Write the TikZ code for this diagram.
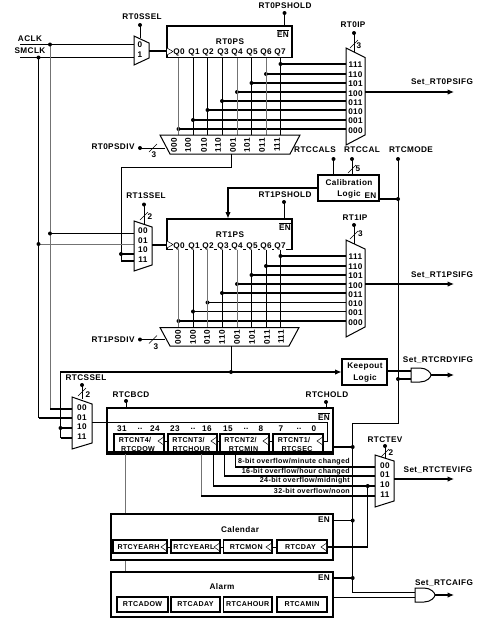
\documentclass[tikz,border=0pt]{standalone}
\usepackage{fontspec}
\setmainfont[LetterSpace=5]{Liberation Sans}
\usetikzlibrary{arrows.meta}
\tikzset{
 x=1pt,y=-1pt,
 every node/.style={font=\fontsize{8.2}{9}\selectfont\bfseries,inner sep=0pt},
 wire/.style={line width=0.9pt},
 hwire/.style={line width=1.2pt},
 gwire/.style={line width=0.9pt,draw=black!55},
 box/.style={line width=1.6pt,draw=black},
 fatbox/.style={line width=2.2pt,draw=black},
 inbox/.style={line width=1.3pt,draw=black},
 muxs/.style={line width=1pt,draw=black,fill=white},
 arr/.style={line width=1.1pt,-{Latex[length=6.5pt,width=5.5pt]}},
 mini/.style={font=\fontsize{7.1}{8}\selectfont\bfseries},
 clk/.style={line width=.5pt,draw=black,fill=white},
}
\newcommand{\jn}[1]{\fill (#1) circle (2pt);}
\newcommand{\slashm}[1]{\draw[line width=.6pt] ([shift={(-4,4)}]#1) -- ([shift={(4,-4)}]#1);}
\begin{document}
\begin{tikzpicture}
\useasboundingbox (0,0) rectangle (497,619);
% ---- clocks
\coordinate (a0) at (20,44.5); \coordinate (s0) at (20,57.5);
\draw[hwire] (a0) -- (134,44.5);
\draw[hwire] (s0) -- (134,57.5);
\draw[gwire] (50,44.5) -- (50,409);
\draw[wire] (38.5,57.5) -- (38.5,418);
\jn{50,44.5} \jn{38.5,57.5}
\node at (30,39) {ACLK}; \node at (30,51) {SMCLK};
% RT0 sel mux
\draw[wire] (140,25) -- (140,38); \jn{140,25}
\node at (142,17) {RT0SSEL};
\draw[muxs] (134,36) -- (149,43) -- (149,58) -- (134,65) -- cycle;
\node at (140,45) {0}; \node at (140,55) {1};
\draw[hwire] (149,51) -- (167,51);
% RT0PS
\node (rt0) at (230,42) {RT0PS};
\draw[box] (167,26) rectangle (292,57.5);
\draw[clk] (167,48) -- (173,51.5) -- (167,55);
\foreach \t/\x in {Q0/179,Q1/194,Q2/208,Q3/223,Q4/237,Q5/252,Q6/266,Q7/280} \node[fill=white,inner sep=.3pt] at (\x,52) {\t};
\node at (283,33.5) {$\overline{\hbox{EN}}$};
\node at (285,6) {RT0PSHOLD}; \draw[wire] (284.5,13) -- (284.5,26); \jn{284.5,13}
% Q lines
\foreach \x/\y in {280.5/64,266/74,251.5/83,237/92,222/101,207.5/110,193/120,178.5/129}{
  \draw[hwire] (\x,\y) -- (346,\y); \jn{\x,\y}
}
\foreach \x in {193,222,251.5,280.5,207.5} \draw[wire] (\x,57.5) -- (\x,135);
\foreach \x in {178.5,237,266} \draw[gwire] (\x,57.5) -- (\x,135);
% RT0IP mux
\draw[muxs] (346,48) -- (365,57.5) -- (365,135) -- (346,145) -- cycle;
\node at (353,25) {RT0IP};
\draw[wire] (354,33) -- (354,52); \jn{354,33}
\slashm{354,44} \node at (359,46) {3};
\foreach \t/\y in {111/65,110/75,101/84,100/94,011/103,010/112,001/121,000/131} \node at (355.5,\y) {\t};
\draw[arr] (365,92) -- (454,92);
\node at (442,82) {Set\_RT0PSIFG};
% RT0 divider
\draw[muxs] (160,135) -- (300,135) -- (290,154) -- (170,154) -- cycle;
\foreach \t/\x in {000/174,100/188,010/204,110/218,001/233,101/247,011/262,111/277} \node[rotate=90] at (\x,145) {\t};
\node at (113,147) {RT0PSDIV};
\draw[wire] (140,148) -- (165,148); \jn{140,148} \slashm{153,148} \node at (154,154.5) {3};
% RT0 div to RT1 mux
\draw[wire] (231,154) -- (231,167) -- (121,167) -- (121,261);
\draw[hwire] (121,254) -- (134,254); \jn{121,254}
\draw[hwire] (121,261) -- (134,261);
% labels middle
\node at (315,150) {RTCCALS}; \node at (362,150) {RTCCAL}; \node at (411,150) {RTCMODE};
% Calibration
\draw[wire] (333.5,159) -- (333.5,175); \jn{333.5,159}
\draw[wire] (352,159) -- (352,175); \jn{352,159} \slashm{352,169} \node at (358,169) {5};
\draw[fatbox] (318,175) rectangle (379,201);
\node at (349,183) {Calibration}; \node at (349,194.5) {Logic}; \node at (370.5,196) {EN};
\draw[arr] (318,188) -- (228,188) -- (228,218.5);
\draw[hwire] (379,199) -- (398,199);
\jn{398,199}
% RTCMODE line
\draw[wire] (398,159) -- (398,423) -- (352.7,423) -- (352.7,592) -- (415,592); \jn{398,159}
% RT1 sel mux
\node at (146,196) {RT1SSEL};
\draw[wire] (144,204.5) -- (144,224); \jn{144,204.5} \slashm{144,216} \node at (150,217) {2};
\draw[hwire] (50,233.5) -- (134,233.5); \jn{50,233.5}
\draw[line width=.7pt,black!55] (38.5,244) -- (134,244); \jn{38.5,244}
\draw[muxs] (134,221) -- (152,227) -- (152,265) -- (134,271) -- cycle;
\foreach \t/\y in {00/231,01/241,10/250,11/260} \node at (143,\y) {\t};
\draw[hwire] (152,245) -- (167,245);
% RT1PS
\node at (285,195) {RT1PSHOLD}; \draw[wire] (284,202) -- (284,219); \jn{284,202}
\draw[box] (167,219) rectangle (292,249.5);
\node at (230,235) {RT1PS};
\draw[clk] (167,241) -- (173,244.5) -- (167,248);
\foreach \t/\x in {Q0/179,Q1/194,Q2/208,Q3/223,Q4/237,Q5/252,Q6/266,Q7/280} \node[fill=white,inner sep=.3pt] at (\x,246) {\t};
\node at (285,226.5) {$\overline{\hbox{EN}}$};
\foreach \x/\y in {280.5/256,266/266,251.5/275,237/284,222/293,207.5/302.5,193/311.5,178.5/321}{
  \draw[hwire] (\x,\y) -- (346,\y); \jn{\x,\y}
}
\foreach \x in {193,222,251.5,280.5,266} \draw[wire] (\x,249.5) -- (\x,327.5);
\foreach \x in {178.5,237,207.5} \draw[gwire] (\x,249.5) -- (\x,327.5);
% RT1IP mux
\draw[muxs] (346,240) -- (365,249) -- (365,327) -- (346,337) -- cycle;
\node at (355,218) {RT1IP};
\draw[wire] (354,225) -- (354,244); \jn{354,225} \slashm{354,235} \node at (360.5,234) {3};
\foreach \t/\y in {111/257,110/267,101/276,100/286,011/295,010/304,001/313,000/323} \node at (355.5,\y) {\t};
\draw[arr] (365,284) -- (454,284);
\node at (442,275) {Set\_RT1PSIFG};
% RT1 divider
\draw[muxs] (160,327.5) -- (299,327.5) -- (289,346) -- (170,346) -- cycle;
\foreach \t/\x in {000/178,100/193,010/207,110/222,001/237,101/252,011/267,111/281} \node[rotate=90] at (\x,337) {\t};
\node at (113,340) {RT1PSDIV};
\draw[wire] (140,339.5) -- (165,339.5); \jn{140,339.5} \slashm{153,339.5} \node at (156,347) {3};
% Keepout
\draw[wire] (231,346) -- (231,372); \jn{231,372}
\draw[arr] (60.5,438) -- (60.5,372) -- (341.5,372);
\draw[fatbox] (342,359) rectangle (387,385);
\node at (365,367) {Keepout}; \node at (365,378) {Logic};
\draw[hwire] (387,371) -- (411,371);
\draw[hwire] (398,379) -- (411,379); \jn{398,379}
\draw[line width=1pt,fill=white] (411,368) -- (420,368) .. controls (427,368) and (431,373) .. (431,375) .. controls (431,377) and (427,382) .. (420,382) -- (411,382) -- cycle;
\draw[arr] (431,375) -- (454,375);
\node at (438,360) {Set\_RTCRDYIFG};
% RTC sel mux
\node at (86,378) {RTCSSEL};
\draw[wire] (82,385) -- (82,399); \jn{82,385} \slashm{82,392} \node at (88,395) {2};
\draw[hwire] (50,409) -- (72,409);
\draw[hwire] (38.5,418) -- (72,418);
\draw[hwire] (60.5,428) -- (72,428); \jn{60.5,428}
\draw[hwire] (60.5,438) -- (72,438);
\draw[muxs] (72,397) -- (92,404) -- (92,443) -- (72,449) -- cycle;
\foreach \t/\y in {00/408,01/418,10/427,11/437} \node at (82,\y) {\t};
% RTC main
\node at (131,395) {RTCBCD}; \draw[wire] (126,401) -- (126,408); \jn{126,401}
\node at (327,395) {RTCHOLD}; \draw[wire] (326,402) -- (326,408); \jn{326,402}
\node at (324,416.5) {$\overline{\hbox{EN}}$};
\draw[wire] (92,422.5) -- (327,422.5) -- (327,441) -- (323,441);
\foreach \t/\x in {31/122,24/155,23/175,16/207,15/228,8/261,7/281,0/314} \node at (\x,429) {\t};
\foreach \x in {140,193,246,299} \node at (\x,429) {..};
\foreach \a/\b/\t/\u in {114/164/RTCNT4\slash/RTCDOW,168/217/RTCNT3\slash/RTCHOUR,220/269/RTCNT2\slash/RTCMIN,273/323/RTCNT1\slash/RTCSEC}{
  \node[mini] at ({(\a+\b)/2-4},440) {\t};
  \node[mini] at ({(\a+\b)/2-1},449.5) {\u};
  \draw[inbox] (\a,434) rectangle (\b,453);
  \draw[clk] (\b-1,437.5) -- (\b-6,441) -- (\b-1,444.5);
}
\draw[wire] (164,441) -- (168,441) (217,441) -- (220,441) (269,441) -- (273,441);
\draw[line width=4pt] (107,452.8) -- (333,452.8);
\draw[line width=1.7pt] (107,454.8) -- (107,408) -- (333,408) -- (333,454.8);
% overflow lines
\draw[wire] (235,454) -- (235,467);
\draw[hwire] (235,467) -- (375,467);
\draw[wire] (224,454) -- (224,476);
\draw[hwire] (224,476) -- (375,476);
\draw[wire] (213,454) -- (213,486);
\draw[hwire] (213,486) -- (375,486);
\draw[gwire] (201,454) -- (201,496);
\draw[hwire] (201,496) -- (375,496);
\node[anchor=east,mini] at (350,462) {8-bit overflow/minute changed};
\node[anchor=east,mini] at (350,471.5) {16-bit overflow/hour changed};
\node[anchor=east,mini] at (350,480.5) {24-bit overflow/midnight};
\node[anchor=east,mini] at (350,490.5) {32-bit overflow/noon};
\draw[hwire] (333,447) -- (352.7,447); \jn{352.7,447}
% RTCTEV mux
\node at (385,440) {RTCTEV};
\draw[wire] (385,446) -- (385,458); \jn{385,446} \slashm{385,453} \node at (391,453) {2};
\draw[muxs] (375,455) -- (394,461) -- (394,501) -- (375,507) -- cycle;
\foreach \t/\y in {00/466,01/475,10/485,11/495} \node at (385,\y) {\t};
\draw[arr] (394,479) -- (454,479);
\node at (438,470) {Set\_RTCTEVIFG};
% RTCDAY clock line
\draw[wire] (367.7,486) -- (367.7,547); \jn{367.7,486}
\draw[hwire] (367.7,547) -- (326,547);
% link RTCNT4 to calendar/alarm
\draw[gwire] (125.7,454) -- (125.7,514);
\draw[gwire] (125.7,560) -- (125.7,572);
% Calendar
\draw[fatbox] (110.7,514) rectangle (333,560);
\node at (324,520) {EN}; \node at (240,530) {Calendar};
\foreach \a/\b/\t in {113/167/RTCYEARH,171/220/RTCYEARL,223.5/272/RTCMON,277/327/RTCDAY}{
  \draw[inbox] (\a,540) rectangle (\b,553);
  \node[mini] at ({(\a+\b)/2-1.5},547) {\t};
  \draw[clk] (\b-1,543.5) -- (\b-6,547) -- (\b-1,550.5);
}
\draw[wire] (167,547) -- (171,547) (220,547) -- (223.5,547) (272,547) -- (277,547);
\draw[hwire] (333,520.5) -- (352.7,520.5); \jn{352.7,520.5}
% Alarm
\draw[fatbox] (110.7,572) rectangle (333,617);
\node at (324,578) {EN}; \node at (222,587) {Alarm};
\foreach \a/\b/\t in {117/168/RTCADOW,171/220/RTCADAY,223.5/272/RTCAHOUR,277/327/RTCAMIN}{
  \draw[inbox] (\a,597) rectangle (\b,612);
  \node[mini] at ({(\a+\b)/2},604.5) {\t};
}
\draw[hwire] (333,578) -- (352.7,578); \jn{352.7,578}
\draw[wire] (333,597) -- (415,597);
\draw[line width=1pt,fill=white] (415,588) -- (424,588) .. controls (431,588) and (435,593) .. (435,595) .. controls (435,597) and (431,602) .. (424,602) -- (415,602) -- cycle;
\draw[arr] (435,595) -- (454,595);
\node at (444,583) {Set\_RTCAIFG};
\end{tikzpicture}
\end{document}
